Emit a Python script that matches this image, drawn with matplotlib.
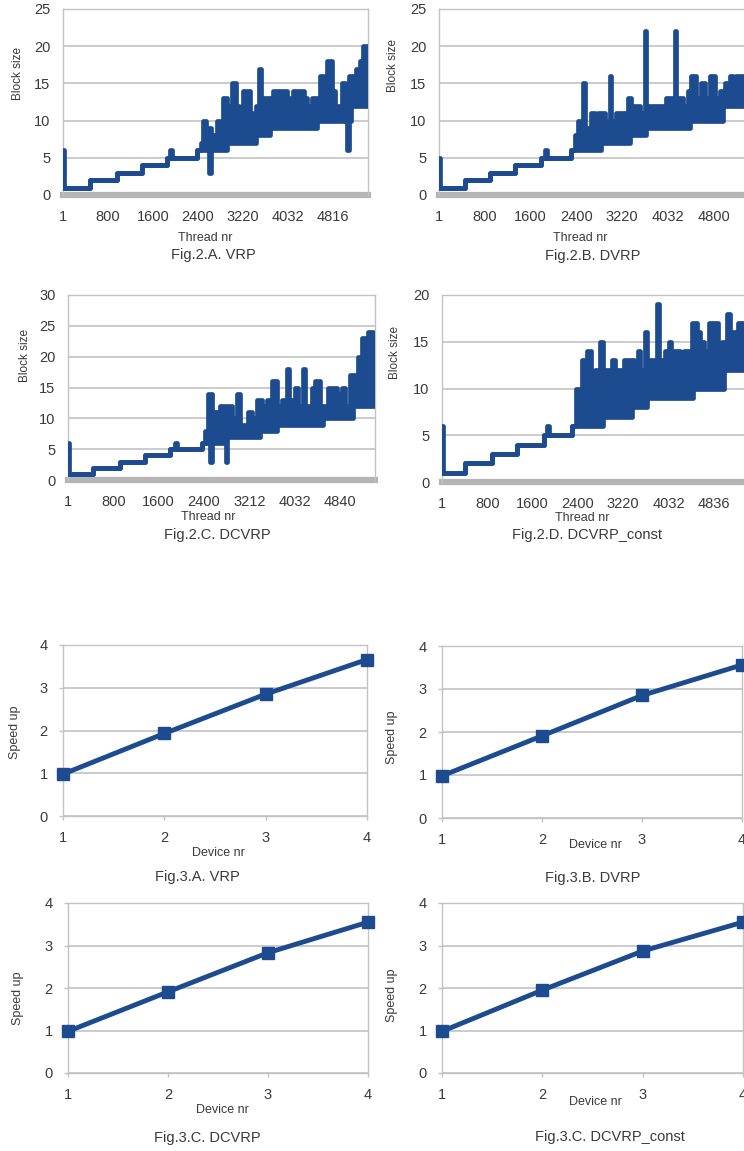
import matplotlib.pyplot as plt

plt.rcParams['font.family'] = ['Liberation Sans', 'DejaVu Sans']

W, H = 744, 1151  # tamanho da figura em pixels
AZUL = '#1d4b8f'
GRADE = '#c2c2c2'
TEXTO = '#3a3a3a'

# ---------------- dados: block size por thread ----------------
thread_ticks = [0, 800, 1600, 2400, 3200, 4000, 4800]
thread_fim = 5420
a_labels = ['1', '800', '1600', '2400', '3220', '4032', '4816']
b_labels = ['1', '800', '1600', '2400', '3220', '4032', '4800']
c_labels = ['1', '800', '1600', '2400', '3212', '4032', '4840']
d_labels = ['1', '800', '1600', '2400', '3220', '4032', '4836']

# VRP
a_x = [0, 20, 480, 955, 1400, 1843, 1900, 1930, 2388, 2448, 2495, 2543, 2590, 2626, 2732,
       2803, 2851, 2910, 2999, 3076, 3136, 3195, 3325, 3432, 3479, 3527, 3681, 3740, 3978, 4096,
       4274, 4333, 4422, 4511, 4571, 4630, 4689, 4778, 4837, 4956, 5015, 5045, 5080, 5116, 5152,
       5211, 5270, 5330, 5401]
a_lo = [1, 1, 2, 3, 4, 5, 5, 5, 6, 6, 6, 6, 3, 6, 6, 6, 6, 7, 7, 7, 7, 7, 7, 8, 8,
        8, 9, 9, 9, 9, 9, 9, 9, 10, 10, 10, 10, 10, 10, 10, 10, 6, 10, 12, 12, 12, 12, 12, 12]
a_hi = [6, 1, 2, 3, 4, 5, 6, 5, 6, 7, 10, 9, 9, 8, 10, 8, 13, 12, 15, 12, 11, 14, 11, 12, 17,
        13, 13, 14, 13, 14, 13, 12, 13, 12, 16, 12, 18, 14, 12, 15, 14, 14, 16, 16, 14, 17, 18, 20, 17]

# DVRP
b_x = [0, 20, 454, 890, 1326, 1792, 1860, 1890, 2315, 2374, 2432, 2490, 2519, 2545, 2665,
       2723, 2781, 2839, 2897, 2985, 3010, 3101, 3305, 3334, 3363, 3508, 3596, 3622, 3974, 4119,
       4145, 4265, 4352, 4381, 4411, 4498, 4585, 4643, 4731, 4818, 4905, 4963, 4993, 5080, 5138, 5196]
b_lo = [1, 1, 2, 3, 4, 5, 5, 5, 6, 6, 6, 6, 6, 6, 6, 6, 6, 7, 7, 7, 7, 7, 7, 8, 8,
        8, 8, 9, 9, 9, 9, 9, 9, 10, 10, 10, 10, 10, 10, 10, 10, 12, 12, 12, 12, 12]
b_hi = [5, 1, 2, 3, 4, 5, 6, 5, 6, 8, 10, 8, 15, 9, 11, 8, 11, 11, 10, 16, 10, 11, 13, 13, 12,
        11, 22, 12, 13, 22, 13, 12, 14, 14, 16, 13, 15, 13, 16, 13, 14, 14, 15, 16, 14, 16]

# DCVRP
c_x = [0, 20, 447, 918, 1359, 1800, 1890, 1930, 2359, 2418, 2477, 2506, 2540, 2683, 2788,
       2815, 2888, 2977, 3030, 3182, 3241, 3329, 3388, 3418, 3506, 3594, 3682, 3770, 3859, 3900,
       4006, 4064, 4153, 4190, 4300, 4358, 4447, 4505, 4594, 4741, 4829, 4888, 4976, 5035, 5123,
       5182, 5241, 5299, 5376]
c_lo = [1, 1, 2, 3, 4, 5, 5, 5, 6, 6, 6, 3, 6, 6, 3, 7, 7, 7, 7, 7, 7, 7, 8, 8, 8,
        8, 9, 9, 9, 9, 9, 9, 9, 9, 9, 9, 9, 10, 10, 10, 10, 10, 10, 12, 12, 12, 12, 12, 12]
c_hi = [6, 1, 2, 3, 4, 5, 6, 5, 6, 8, 14, 14, 11, 12, 12, 12, 10, 14, 9, 11, 10, 13, 13, 12, 13,
        16, 12, 13, 18, 13, 15, 12, 18, 12, 15, 16, 12, 12, 15, 14, 15, 12, 17, 17, 20, 23, 20, 24, 15]

# DCVRP_const
d_x = [0, 20, 411, 882, 1323, 1794, 1860, 1890, 2294, 2371, 2471, 2559, 2629, 2706, 2794,
       2840, 3000, 3059, 3176, 3217, 3353, 3382, 3453, 3500, 3588, 3625, 3794, 3830, 3941, 4000,
       4040, 4205, 4264, 4352, 4411, 4440, 4499, 4558, 4617, 4705, 4881, 4940, 4970, 5028, 5090,
       5176, 5234]
d_lo = [1, 1, 2, 3, 4, 5, 5, 5, 6, 6, 6, 6, 6, 6, 6, 7, 7, 7, 7, 7, 8, 8, 8, 8, 8,
        9, 9, 9, 9, 9, 9, 9, 9, 9, 9, 10, 10, 10, 10, 10, 10, 10, 12, 12, 12, 12, 12]
d_hi = [6, 1, 2, 3, 4, 5, 6, 5, 6, 10, 13, 14, 11, 12, 15, 12, 13, 12, 11, 13, 13, 12, 14, 12, 16,
        13, 19, 13, 14, 15, 14, 11, 14, 13, 17, 17, 16, 15, 14, 17, 14, 15, 15, 18, 16, 15, 17]

# ---------------- dados: speed up por device ----------------
devices = [1, 2, 3, 4]
speed_vrp = [0.98, 1.93, 2.85, 3.66]
speed_dvrp = [0.98, 1.91, 2.85, 3.56]
speed_dcvrp = [0.98, 1.91, 2.83, 3.55]
speed_dcvrp_const = [0.98, 1.95, 2.87, 3.55]


fig = plt.figure(figsize=(W / 100, H / 100), dpi=100)


def eixo(l, t, r, b):
    # posicao do eixo em pixels: esquerda, topo, direita, baixo
    return fig.add_axes([l / W, 1 - b / H, (r - l) / W, (b - t) / H])


def texto(x, y, s, size=9, rot=0):
    fig.text(x / W, 1 - y / H, s, fontsize=size, color=TEXTO, rotation=rot,
             ha='center', va='center')


def estilo(ax):
    for lado in ['left', 'right', 'top', 'bottom']:
        ax.spines[lado].set_color(GRADE)
        ax.spines[lado].set_linewidth(1.0)
    ax.yaxis.grid(True, color=GRADE, lw=1.2)
    ax.set_axisbelow(True)
    ax.tick_params(axis='both', colors=GRADE, labelcolor=TEXTO, labelsize=10.5, width=1)


def painel_block(ax, xs, lo, hi, ymax, labels):
    x = xs + [thread_fim]
    lo2 = lo + [lo[-1]]
    hi2 = hi + [hi[-1]]
    ax.fill_between(x, lo2, hi2, step='post', color=AZUL, lw=0, zorder=3)
    ax.step(x, lo2, where='post', color=AZUL, lw=3.4, zorder=3)
    ax.step(x, hi2, where='post', color=AZUL, lw=3.4, zorder=3)
    ax.set_xlim(0, thread_fim)
    ax.set_ylim(0, ymax)
    ax.set_yticks(range(0, ymax + 1, 5))
    ax.set_xticks(thread_ticks, labels)
    estilo(ax)
    ax.spines['bottom'].set_visible(False)
    ax.axhline(0, color='#b5b5b5', lw=4.5, zorder=2, clip_on=False)  # "chao" cinza
    ax.tick_params(axis='x', length=0, pad=11)
    ax.tick_params(axis='y', length=0, pad=9)


def painel_speed(ax, y):
    ax.plot(devices, y, color=AZUL, lw=3.5, marker='s', ms=8, clip_on=False, zorder=4)
    ax.set_xlim(1, 4)
    ax.set_ylim(0, 4)
    ax.set_xticks(devices)
    ax.set_yticks(range(5))
    estilo(ax)
    ax.tick_params(axis='both', length=3, pad=8)


# ----- Fig.2 -----
ax_a = eixo(63, 9, 368, 195)
painel_block(ax_a, a_x, a_lo, a_hi, 25, a_labels)
texto(18, 73, 'Block size', 8.5, 90)
texto(205, 238, 'Thread nr')
texto(213, 255, 'Fig.2.A. VRP', 10.5)

ax_b = eixo(439, 9, 749, 195)
painel_block(ax_b, b_x, b_lo, b_hi, 25, b_labels)
texto(393, 66, 'Block size', 8.5, 90)
texto(580, 238, 'Thread nr')
texto(593, 256, 'Fig.2.B. DVRP', 10.5)

ax_c = eixo(68, 295, 375, 480)
painel_block(ax_c, c_x, c_lo, c_hi, 30, c_labels)
texto(25, 355, 'Block size', 8.5, 90)
texto(208, 517, 'Thread nr')
texto(217, 535, 'Fig.2.C. DCVRP', 10.5)

ax_d = eixo(442, 295, 749, 482)
painel_block(ax_d, d_x, d_lo, d_hi, 20, d_labels)
texto(395, 352, 'Block size', 8.5, 90)
texto(582, 518, 'Thread nr')
texto(587, 535, 'Fig.2.D. DCVRP_const', 10.5)

# ----- Fig.3 -----
ax_e = eixo(63, 645, 367, 816)
painel_speed(ax_e, speed_vrp)
texto(15, 732, 'Speed up', 9, 90)
texto(218, 853, 'Device nr')
texto(197, 877, 'Fig.3.A. VRP', 10.5)

ax_f = eixo(442, 646, 742, 818)
painel_speed(ax_f, speed_dvrp)
texto(392, 737, 'Speed up', 9, 90)
texto(595, 845, 'Device nr')
texto(593, 878, 'Fig.3.B. DVRP', 10.5)

ax_g = eixo(68, 903, 368, 1073)
painel_speed(ax_g, speed_dcvrp)
texto(18, 998, 'Speed up', 9, 90)
texto(222, 1110, 'Device nr')
texto(207, 1138, 'Fig.3.C. DCVRP', 10.5)

ax_h = eixo(442, 903, 743, 1073)
painel_speed(ax_h, speed_dcvrp_const)
texto(392, 995, 'Speed up', 9, 90)
texto(595, 1102, 'Device nr')
texto(610, 1137, 'Fig.3.C. DCVRP_const', 10.5)

plt.savefig('out.png', dpi=100)
